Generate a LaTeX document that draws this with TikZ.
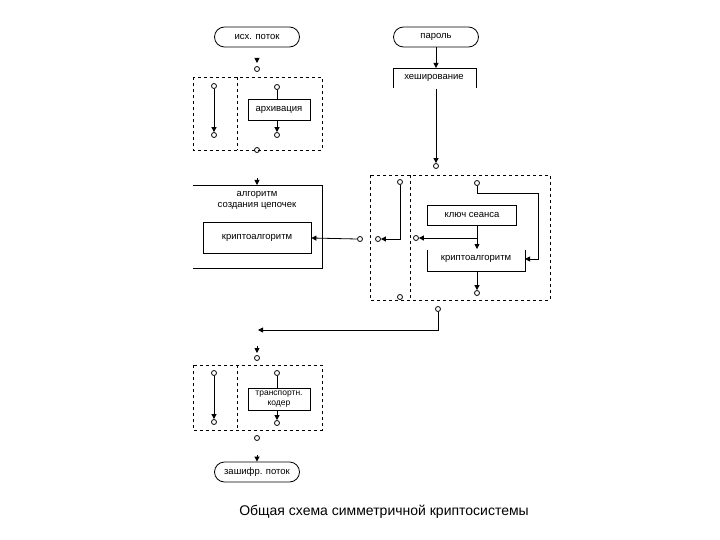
\documentclass[tikz,border=0pt]{standalone}
\usepackage{fontspec}
\setmainfont{Liberation Sans}
\usetikzlibrary{shapes.misc,arrows.meta}
\begin{document}
\begin{tikzpicture}[x=1pt,y=-1pt,line width=0.8pt,
  every node/.style={font=\fontsize{9.5}{11}\selectfont},
  box/.style={draw,inner sep=0pt},
  term/.style={draw,rounded rectangle,minimum width=85pt,minimum height=20pt,inner sep=0pt},
  pin/.style={circle,draw,minimum size=5pt,inner sep=0pt},
  dbox/.style={draw,dashed},
  arr/.style={-{Triangle[length=5pt,width=5pt]}},
  ln/.style={}]
\useasboundingbox (0,0) rectangle (720,540);
% terminals
\node[term] (t1) at (257,37) {исх. поток};
\node[term] (t2) at (436,37) {пароль};
\node[term] (t3) at (257,472) {зашифр. поток};
% top-left block
\coordinate (a0) at (257,63);
\node[pin] (c1) at (257,69) {};
\draw[arr] (257,58) -- (a0);
\draw[dbox] (193,77) rectangle (322,150);
\draw[dbox] (237,77) -- (237,150);
\node[pin] (c2) at (214,86) {};
\node[pin] (c3) at (214,135) {};
\draw[ln,arr] (c2) -- (c3.north);
\node[box,minimum width=62pt,minimum height=21pt] (arh) at (279,110) {архивация};
\node[pin] (c4) at (277,87) {};
\node[pin] (c5) at (277,135) {};
\draw[ln] (c4) -- (c4|-arh.north);
\draw[ln,arr] (c4|-arh.south) -- (c5.north);
\node[pin] (c6) at (257,150) {};
% hash
\draw[arr] (t2) -- (436,68);
\draw[ln] (393,88) -- (393,68) -- (476,68) -- (476,88);
\node (hash) at (434,78) {хеширование};
\node[pin] (c7) at (436,166) {};
\draw[ln,arr] (436,89) -- (c7.north);
% left algorithm box
\draw[ln] (193,185) -- (322,185) -- (322,268) -- (193,268);
\draw[arr] (257,178) -- (257,185);
\node[align=center] (alg) at (257,200) {алгоритм\\создания цепочек};
\node[box,minimum width=108pt,minimum height=31pt] (kr1) at (257,238) {криптоалгоритм};
\node[pin] (c8) at (360,239) {};
\draw[ln,arr] (c8.west) -- (kr1.east);
% right dashed block
\draw[dbox] (370,175) rectangle (550,300);
\draw[dbox] (410,175) -- (410,300);
\node[pin] (c9) at (400,182) {};
\node[pin] (c10) at (378,239) {};
\draw[ln,arr] (c9.south) -- (400,239) -- (c10.east);
\node[pin] (c11) at (477,183) {};
\node[box,minimum width=89pt,minimum height=20pt] (key) at (472,215) {ключ сеанса};
\draw[ln] (427,250) -- (427,271) -- (525,271) -- (525,250);
\node (kr2) at (476,259) {криптоалгоритм};
\draw[ln,arr] (c11.south) -- (477,193) -- (538,193) -- (538,259) -- (525,259);
\draw[ln,arr] (477,225) -- (477,249);
\node[pin] (c12) at (416,238) {};
\draw[ln,arr] (477,238) -- (c12.east);
\node[pin] (c13) at (477,293) {};
\draw[ln,arr] (477,271) -- (c13.north);
\node[pin] (c14) at (400,297) {};
\node[pin] (c15) at (438,309) {};
\coordinate (m) at (258,330);
\draw[ln,arr] (c15.south) -- (438,330) -- (m);
% bottom block
\node[pin] (c16) at (257,358) {};
\draw[arr] (257,346) -- (257,353);
\draw[dbox] (193,365) rectangle (322,430);
\draw[dbox] (237,365) -- (237,430);
\node[pin] (c17) at (214,373) {};
\node[pin] (c18) at (214,422) {};
\draw[ln,arr] (c17) -- (c18.north);
\node[box,minimum width=62pt,minimum height=22pt,align=center,font=\fontsize{8.5}{10}\selectfont] (tk) at (279,399) {транспортн.\\кодер};
\node[pin] (c19) at (277,373) {};
\node[pin] (c20) at (277,423) {};
\draw[ln] (c19) -- (c19|-tk.north);
\draw[ln,arr] (c19|-tk.south) -- (c20.north);
\node[pin] (c21) at (257,438) {};
\draw[arr] (257,455) -- (t3.north);
% caption
\node[font=\fontsize{14}{16}\selectfont] (cap) at (384,512) {Общая схема симметричной криптосистемы};
\end{tikzpicture}
\end{document}
